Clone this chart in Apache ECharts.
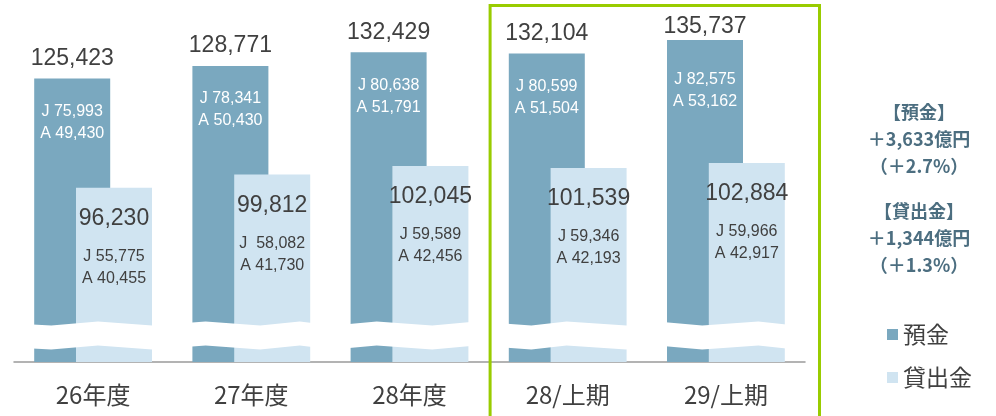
<!DOCTYPE html>
<html>
<head>
<meta charset="utf-8">
<script src="https://cdn.jsdelivr.net/npm/echarts@6/dist/echarts.min.js"></script>
<style>
  html, body { margin: 0; padding: 0; background: #fff; }
  #chart { width: 996px; height: 416px; }
</style>
</head>
<body>
<div id="chart"></div>
<script>
const categories = ['26年度', '27年度', '28年度', '28/上期', '29/上期']
const deposits = [125423, 128771, 132429, 132104, 135737]
const depositJ = ['75,993', '78,341', '80,638', '80,599', '82,575']
const depositA = ['49,430', '50,430', '51,791', '51,504', '53,162']
const loans = [96230, 99812, 102045, 101539, 102884]
const loanJ = ['55,775', ' 58,082', '59,589', '59,346', '59,966']
const loanA = ['40,455', '41,730', '42,456', '42,193', '42,917']
const depositNote = ['【預金】', '＋3,633億円', '（＋2.7%）']
const loanNote = ['【貸出金】', '＋1,344億円', '（＋1.3%）']

const fmt = v => v.toLocaleString('en-US')
const numFont = '"Liberation Sans", Arial, sans-serif'
const cjkFont = '"Noto Sans CJK JP", sans-serif'

const chart = echarts.init(document.getElementById('chart'))

const option = {
  animation: false,
  grid: { left: 14, right: 191, top: 24, bottom: 54 },
  legend: {
    orient: 'vertical',
    left: 882,
    top: 318,
    icon: 'rect',
    itemWidth: 11,
    itemHeight: 11,
    itemGap: 20,
    textStyle: { color: '#404040', fontSize: 23, fontFamily: cjkFont },
    data: ['預金', '貸出金']
  },
  xAxis: {
    type: 'category',
    data: categories,
    axisLine: { lineStyle: { color: '#9a9a9a', width: 1.5 } },
    axisTick: { length: 8, lineStyle: { color: '#9a9a9a', width: 1.5 } },
    axisLabel: { color: '#404040', fontSize: 24, margin: 21, fontFamily: cjkFont }
  },
  yAxis: {
    type: 'value',
    min: 0,
    max: 140000,
    axisLine: { show: false },
    axisTick: { show: false },
    axisLabel: { show: false },
    splitLine: { show: false },
    breaks: [{ start: 4000, end: 60000, gap: '7%' }],
    breakArea: {
      show: true,
      itemStyle: { color: '#fff', borderWidth: 0, opacity: 1 },
      zigzagAmplitude: 2,
      zigzagMinSpan: 30,
      zigzagMaxSpan: 60,
      zigzagZ: 100,
      expandOnClick: false
    }
  },
  series: [
    {
      name: '預金',
      type: 'bar',
      barWidth: 76,
      barGap: '-45%',
      itemStyle: { color: '#7aa8bf' },
      // the tallest bar's total is pushed down a little so it stays inside the frame
      data: deposits.map((v, i) => (i === deposits.length - 1 ? { value: v, label: { offset: [0, -28] } } : v)),
      label: {
        show: true,
        position: 'insideTop',
        distance: 0,
        offset: [0, -35],
        formatter: p => `{t|${fmt(p.value)}}\n{sp| }\n{w|J ${depositJ[p.dataIndex]}}\n{w|A ${depositA[p.dataIndex]}}`,
        rich: {
          t: { fontSize: 23, lineHeight: 30, color: '#404040', fontFamily: numFont },
          sp: { fontSize: 1, lineHeight: 27 },
          w: { fontSize: 16, lineHeight: 22, color: '#fff', fontFamily: numFont }
        }
      }
    },
    {
      name: '貸出金',
      type: 'bar',
      barWidth: 76,
      itemStyle: { color: '#d0e4f1' },
      data: loans,
      label: {
        show: true,
        position: 'insideTop',
        distance: 15,
        formatter: p => `{t|${fmt(p.value)}}\n{sp| }\n{w|J ${loanJ[p.dataIndex]}}\n{w|A ${loanA[p.dataIndex]}}`,
        rich: {
          t: { fontSize: 23, lineHeight: 32, color: '#404040', fontFamily: numFont },
          sp: { fontSize: 1, lineHeight: 11 },
          w: { fontSize: 16, lineHeight: 22, color: '#404040', fontFamily: numFont }
        }
      }
    }
  ]
}

chart.setOption(option)

// green frame round the half-year categories, and the change notes on the right
const c3 = chart.convertToPixel({ xAxisIndex: 0 }, categories[3])
const c4 = chart.convertToPixel({ xAxisIndex: 0 }, categories[4])
const catW = c4 - c3
const noteStyle = {
  font: 'bold 18px ' + cjkFont,
  lineHeight: 27,
  align: 'center',
  verticalAlign: 'top',
  fill: '#4c6e80'
}
chart.setOption({
  graphic: [
    {
      type: 'rect',
      z: 200,
      shape: { x: c3 - catW / 2 + 1.5, y: 5.5, width: catW * 2 + 13, height: 420 },
      style: { fill: 'none', stroke: '#99cc00', lineWidth: 3 }
    },
    {
      type: 'text',
      x: 919,
      y: 99,
      style: Object.assign({ text: depositNote.join('\n') }, noteStyle)
    },
    {
      type: 'text',
      x: 919,
      y: 198,
      style: Object.assign({ text: loanNote.join('\n') }, noteStyle)
    }
  ]
})
</script>
</body>
</html>
